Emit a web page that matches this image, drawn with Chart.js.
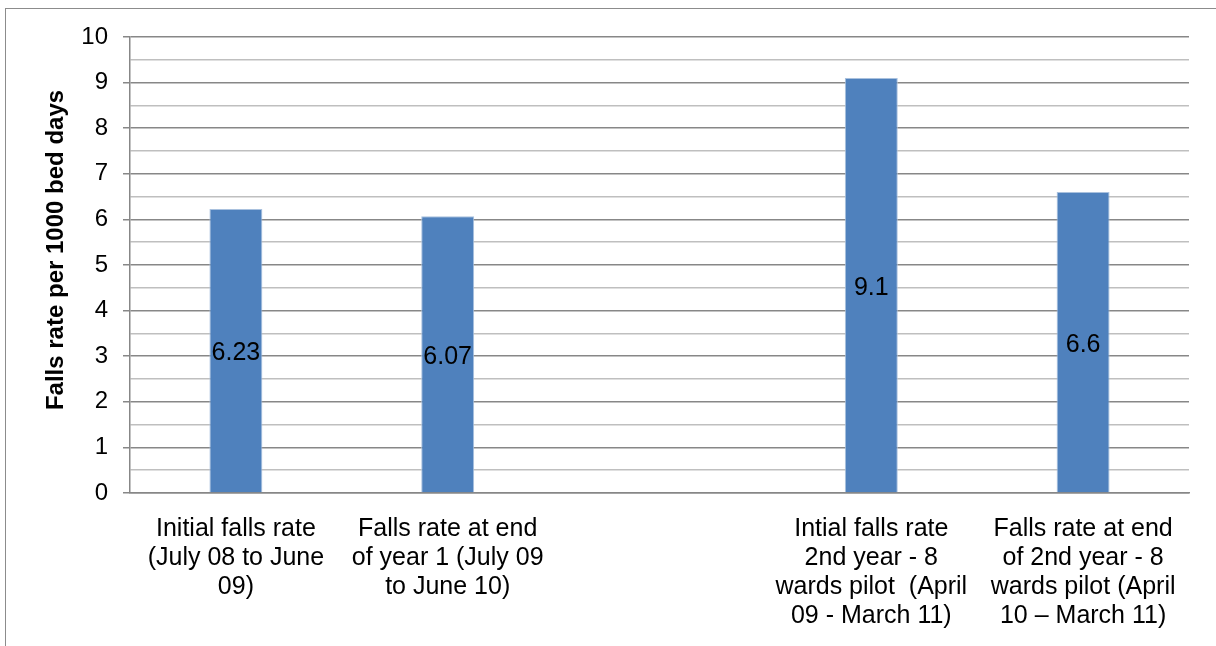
<!DOCTYPE html>
<html lang="en">
<head>
  <meta charset="UTF-8" />
  <title>Falls rate per 1000 bed days</title>
  <script src="https://cdn.jsdelivr.net/npm/chart.js@4.4.1/dist/chart.umd.min.js"></script>
  <style>
    html, body { margin: 0; padding: 0; background: #fff; }
    #wrap { width: 1216px; height: 646px; position: relative; }
  </style>
</head>
<body>
  <div id="wrap"><canvas id="chart"></canvas></div>

  <script>
    // data
    const categories = [
      ["Initial falls rate", "(July 08 to June", "09)"],
      ["Falls rate at end", "of year 1 (July 09", "to June 10)"],
      "",
      ["Intial falls rate", "2nd year - 8", "wards pilot  (April", "09 - March 11)"],
      ["Falls rate at end", "of 2nd year - 8", "wards pilot (April", "10 – March 11)"]
    ];
    const fallsRate = [6.23, 6.07, null, 9.1, 6.6];
    const rateLabels = ["6.23", "6.07", "", "9.1", "6.6"];
    const yTitle = "Falls rate per 1000 bed days";

    const FONT = "'Liberation Sans', Arial, sans-serif";
    const majorGrid = "#878787";
    const minorGrid = "#bfbfbf";

    // outer frame + axis title + value labels
    const extras = {
      id: "extras",
      beforeDraw(chart) {
        const ctx = chart.ctx;
        ctx.save();
        ctx.strokeStyle = "#8c8c8c";
        ctx.lineWidth = 1;
        ctx.strokeRect(5.5, 8.5, 1230, 660);
        ctx.restore();
      },
      afterDatasetsDraw(chart) {
        const ctx = chart.ctx;
        ctx.save();
        ctx.font = "25px " + FONT;
        ctx.fillStyle = "#000";
        ctx.textAlign = "center";
        ctx.textBaseline = "middle";
        chart.getDatasetMeta(0).data.forEach((bar, i) => {
          if (fallsRate[i] == null) return;
          const p = bar.getProps(["x", "y", "base"], true);
          ctx.fillText(rateLabels[i], p.x, (p.y + p.base) / 2 + 3);
        });
        // y axis title
        ctx.font = "bold 24px " + FONT;
        ctx.translate(56, 250);
        ctx.rotate(-Math.PI / 2);
        ctx.fillText(yTitle, 0, 0);
        ctx.restore();
      }
    };

    new Chart(document.getElementById("chart"), {
      type: "bar",
      data: {
        labels: categories,
        datasets: [{
          data: fallsRate,
          backgroundColor: "#4f81bd",
          borderColor: "#a9c1de",
          borderWidth: { top: 1, left: 1, right: 1, bottom: 0 },
          barPercentage: 0.25,
          categoryPercentage: 1
        }]
      },
      options: {
        responsive: true,
        maintainAspectRatio: false,
        animation: false,
        layout: { padding: { left: 0, top: 37, right: 27, bottom: 0 } },
        plugins: {
          legend: { display: false },
          tooltip: { enabled: false }
        },
        scales: {
          x: {
            grid: { display: false, drawTicks: false },
            border: { display: true, color: majorGrid, width: 1.5 },
            ticks: {
              color: "#000",
              font: { family: FONT, size: 25, lineHeight: 1.17 },
              padding: 21,
              maxRotation: 0,
              autoSkip: false
            },
            afterFit(scale) { scale.height = 153; }
          },
          y: {
            min: 0,
            max: 10,
            border: { display: true, color: majorGrid, width: 1.5 },
            grid: {
              color: c => (c.tick && c.tick.value % 1 === 0) ? majorGrid : minorGrid,
              lineWidth: 1.5,
              tickColor: c => (c.tick && c.tick.value % 1 === 0) ? majorGrid : "rgba(0,0,0,0)",
              tickLength: 7
            },
            ticks: {
              stepSize: 0.5,
              autoSkip: false,
              color: "#000",
              font: { family: FONT, size: 24 },
              padding: 15,
              callback: v => (v % 1 === 0 ? String(v) : "")
            },
            afterFit(scale) { scale.width = 130; }
          }
        }
      },
      plugins: [extras]
    });
  </script>
</body>
</html>
